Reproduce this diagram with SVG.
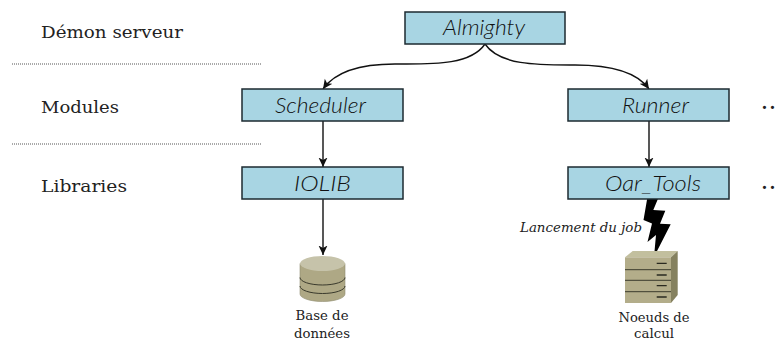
<svg xmlns="http://www.w3.org/2000/svg" width="780" height="341" viewBox="0 0 780 341">
<style>
.box{fill:#a8d5e3;stroke:#1c2a30;stroke-width:1.5}
.hand{font-family:"Lato","Liberation Sans",sans-serif;font-style:italic;font-size:21px;font-weight:300;fill:#111;text-anchor:middle}
.ser{font-family:"DejaVu Serif","Liberation Serif",serif;fill:#222}
.lab{font-size:16.5px}
.cap{font-size:12.5px;text-anchor:middle}
.con{fill:none;stroke:#111;stroke-width:1.4}
.dot{stroke:#555;stroke-width:1;stroke-dasharray:1 1}
.sep{stroke:#3a3a2c;stroke-width:1}
.more{font-size:17px;font-weight:bold;letter-spacing:2px}
</style>
<defs>
<marker id="arr" markerUnits="userSpaceOnUse" markerWidth="12" markerHeight="10" refX="9.5" refY="5" orient="auto">
<path d="M0 0.5L9.5 5L0 9.5L2.5 5Z" fill="#111"/>
</marker>
</defs>
<rect width="780" height="341" fill="#fff"/>
<g id="layer-labels">
<text class="ser lab" x="41" y="38" textLength="142" lengthAdjust="spacingAndGlyphs">Démon serveur</text>
<text class="ser lab" x="41" y="113" textLength="78" lengthAdjust="spacingAndGlyphs">Modules</text>
<text class="ser lab" x="41" y="192" textLength="86" lengthAdjust="spacingAndGlyphs">Libraries</text>
<line class="dot" x1="12" y1="64" x2="261" y2="64"/>
<line class="dot" x1="12" y1="144" x2="261" y2="144"/>
</g>
<g id="connectors">
<path class="con" marker-end="url(#arr)" d="M485 44C470 66 430 64 395 64C360 64 335 72 323 89"/>
<path class="con" marker-end="url(#arr)" d="M485 44C500 66 540 65 575 65C610 65 637 72 649 89"/>
<path class="con" marker-end="url(#arr)" d="M323 121V167"/>
<path class="con" marker-end="url(#arr)" d="M649 121V167"/>
<path class="con" marker-end="url(#arr)" d="M323 199V255"/>
<path id="bolt" fill="#000" d="M647.3 198H658.3L653.3 210L665.3 210.700L660 223.700L670.700 224.300L654 257L656 235L647.500 242L652 223.500L643.500 220Z"/>
</g>
<g id="almighty"><rect class="box" x="405" y="12" width="160" height="32"/><text class="hand" x="484" y="35" textLength="82" lengthAdjust="spacingAndGlyphs">Almighty</text></g>
<g id="scheduler"><rect class="box" x="242" y="89" width="161" height="32"/><text class="hand" x="320.500" y="113" textLength="91" lengthAdjust="spacingAndGlyphs">Scheduler</text></g>
<g id="runner"><rect class="box" x="568" y="89" width="161" height="32"/><text class="hand" x="655.500" y="113" textLength="67" lengthAdjust="spacingAndGlyphs">Runner</text></g>
<g id="iolib"><rect class="box" x="242" y="167" width="161" height="32"/><text class="hand" x="322.500" y="191" textLength="57" lengthAdjust="spacingAndGlyphs">IOLIB</text></g>
<g id="oar-tools"><rect class="box" x="568" y="167" width="161" height="32"/><text class="hand" x="653" y="191" textLength="96" lengthAdjust="spacingAndGlyphs">Oar_Tools</text></g>
<g id="more-modules"><text class="ser more" x="761.500" y="109">..</text></g>
<g id="more-libraries"><text class="ser more" x="761.500" y="189">..</text></g>
<g id="lancement"><text class="ser" x="520" y="232" font-size="12.5" font-style="italic" textLength="122" lengthAdjust="spacingAndGlyphs">Lancement du job</text></g>
<g id="database">
<path d="M300 263.500V294A22.500 7.500 0 0 0 345 294V263.500Z" fill="#aea885" stroke="#8f8b6e" stroke-width="0.6"/>
<ellipse cx="322.500" cy="263.500" rx="22.500" ry="7.500" fill="#c6c3aa"/>
<path class="sep" d="M300 277.500A22.500 7.500 0 0 0 345 277.500M300 286A22.500 7.500 0 0 0 345 286" fill="none"/>
<text class="ser cap" x="322" y="320" textLength="53" lengthAdjust="spacingAndGlyphs">Base de</text>
<text class="ser cap" x="322" y="338" textLength="56" lengthAdjust="spacingAndGlyphs">données</text>
</g>
<g id="compute-nodes">
<path d="M625 257.300L632.700 251H677.700L671 257.300Z" fill="#c2bf9e"/>
<path d="M671 257.300L677.700 251V295L671 303Z" fill="#85815f"/>
<rect x="625" y="257.300" width="46" height="45.700" fill="#b3ad8a"/>
<path class="sep" d="M625 269.700H671M625 280.300H671M625 291.700H671"/>
<path d="M656.700 263.300H666.700M656.700 275H666.700M656.700 285.700H666.700M656.700 297H666.700" stroke="#2a2a20" stroke-width="1.300"/>
<text class="ser cap" x="654" y="322" textLength="71" lengthAdjust="spacingAndGlyphs">Noeuds de</text>
<text class="ser cap" x="654" y="338" textLength="40" lengthAdjust="spacingAndGlyphs">calcul</text>
</g>
</svg>
